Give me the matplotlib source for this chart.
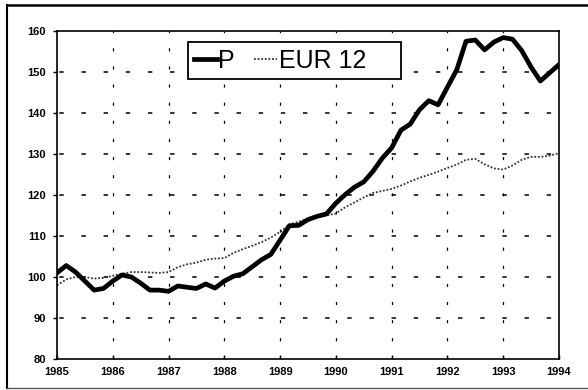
import numpy as np
from matplotlib import pyplot as plt
from matplotlib.lines import Line2D
from matplotlib.patches import Rectangle

plt.rcParams['font.family'] = ['Liberation Sans', 'DejaVu Sans']

# bimonthly observations, 1985 - 1994 (index 1985 = 100)
anos = 1985 + np.arange(55) / 6.0

p = [101.0, 102.8, 101.2, 99.0, 96.8, 97.2, 99.0, 100.5, 100.0, 98.5,
     96.8, 96.8, 96.5, 97.8, 97.5, 97.2, 98.3, 97.3, 99.0, 100.2,
     100.8, 102.5, 104.2, 105.5, 109.0, 112.5, 112.6, 114.0, 114.8, 115.4,
     118.0, 120.1, 121.9, 123.2, 125.8, 129.0, 131.5, 135.8, 137.3, 140.8,
     143.0, 142.0, 146.3, 150.5, 157.5, 157.8, 155.4, 157.3, 158.4, 158.0,
     155.2, 151.2, 147.8, 149.8, 151.8]

eur12 = [98.0, 99.4, 100.0, 100.0, 99.6, 99.8, 100.3, 100.8, 101.2, 101.2,
         101.1, 101.0, 101.2, 102.4, 103.1, 103.5, 104.2, 104.5, 104.6, 105.9,
         106.8, 107.6, 108.5, 109.6, 111.0, 112.8, 113.5, 114.2, 114.6, 115.0,
         115.5, 117.0, 118.2, 119.4, 120.5, 121.0, 121.5, 122.3, 123.3, 124.2,
         124.9, 125.7, 126.6, 127.4, 128.6, 128.8, 127.5, 126.5, 126.2, 127.2,
         128.6, 129.3, 129.3, 129.6, 130.2]

xticks = list(range(1985, 1995))
yticks = list(range(80, 161, 10))

fig = plt.figure(figsize=(5.88, 3.9), dpi=100)
ax = fig.add_axes([0.0969, 0.0795, 0.8537, 0.841])

# dashed grid drawn by hand so the dash pattern stays short
for y in yticks[1:-1]:
    ax.axhline(y, color="black", lw=1.1, ls=(13, (2.9, 11.6)), zorder=1)
for x in xticks[1:-1]:
    ax.axvline(x, color="black", lw=0.9, ls=(0, (2.5, 12)), zorder=1)

ax.plot(anos, eur12, color="#333333", lw=1.3, ls=(0, (1, 1)), label="EUR 12", zorder=2)
ax.plot(anos, p, color="black", lw=3.4, solid_joinstyle="round", label="P", zorder=3)

ax.set_xlim(1985, 1994)
ax.set_ylim(80, 160)
ax.set_xticks(xticks)
ax.set_yticks(yticks)
ax.set_xticklabels([str(x) for x in xticks], fontsize=8, fontweight="bold")
ax.set_yticklabels([str(y) for y in yticks], fontsize=8, fontweight="bold")
ax.tick_params(axis="x", direction="in", length=3, width=1, pad=6)
ax.tick_params(axis="y", direction="out", length=3, width=1, pad=5)
for s in ax.spines.values():
    s.set_linewidth(1.2)

# legend box is wider than its entries, so the frame is a separate patch
ax.add_patch(Rectangle((0.261, 0.854), 0.424, 0.112, transform=ax.transAxes,
                       facecolor="white", edgecolor="black", lw=1.3, zorder=4))
h, l = ax.get_legend_handles_labels()
leg = ax.legend(h[::-1], l[::-1], ncol=2, loc="center left", bbox_to_anchor=(0.272, 0.910),
                borderaxespad=0, borderpad=0, fontsize=18, handlelength=0.92,
                handletextpad=0.05, columnspacing=0.8, frameon=False)
leg.set_zorder(5)

# outer frame
fig.add_artist(Line2D([0.012, 0.012], [0.005, 0.987], color="black", lw=1.5))
fig.add_artist(Line2D([0.012, 1.0], [0.987, 0.987], color="black", lw=1.8))
fig.add_artist(Line2D([0.012, 1.0], [0.005, 0.005], color="#555555", lw=1.0))

plt.savefig("out.png", dpi=100)
